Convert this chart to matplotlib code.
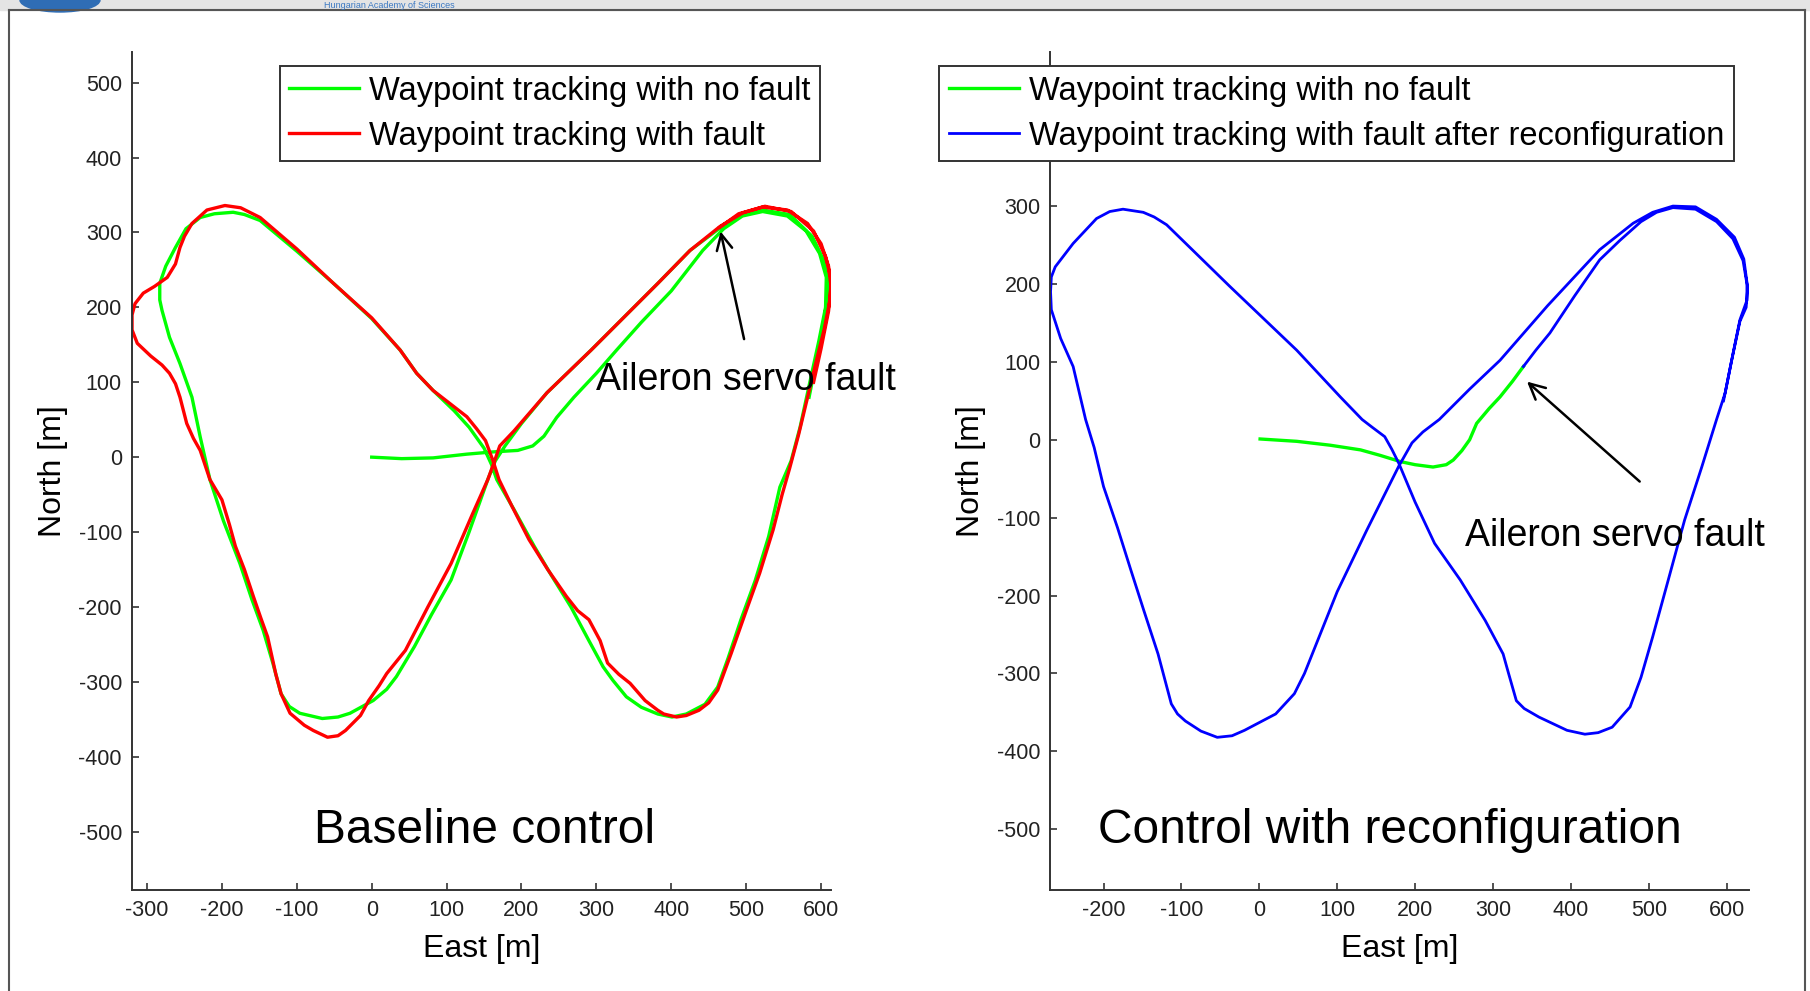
import matplotlib
matplotlib.use("Agg")
import matplotlib.pyplot as plt
from matplotlib.patches import Rectangle, Ellipse
from matplotlib.lines import Line2D

plt.rcParams["font.family"] = ["Liberation Sans", "DejaVu Sans"]
plt.rcParams["axes.unicode_minus"] = False

# --- data (East, North) ---
# left panel: baseline control
nofault_e = [0, 40, 82, 127, 162, 195, 215, 230, 247, 270, 300, 327, 360, 400, 442, 470,
             495, 522, 555, 580, 598, 607, 606, 597, 585, 572, 560, 545, 530, 512, 493,
             476, 462, 445, 420, 401, 382, 360, 340, 322, 309, 290, 266, 240, 217, 190,
             167, 160, 150, 130, 110, 82, 60, 38, 0, -51, -100, -149, -170, -185, -210,
             -229, -248, -262, -275, -283, -283, -280, -270, -256, -240, -229, -216,
             -198, -176, -160, -145, -132, -121, -110, -96, -66, -45, -29, 2, 20, 33,
             57, 80, 106, 130, 155, 165, 178, 200, 234, 293, 340, 382, 425, 465, 492,
             522, 558, 588, 604, 610, 604, 594, 584]
nofault_n = [0, -2, -1, 4, 7, 9, 15, 28, 53, 80, 112, 143, 180, 222, 276, 305,
             322, 328, 322, 302, 272, 240, 200, 155, 100, 40, -5, -40, -106, -165, -217,
             -268, -307, -330, -343, -347, -343, -334, -320, -298, -280, -245, -200, -158,
             -119, -70, -30, -10, 12, 40, 62, 89, 112, 143, 185, 232, 275, 316, 324, 327,
             325, 320, 305, 280, 255, 232, 210, 196, 160, 125, 80, 27, -30, -85, -142,
             -190, -231, -275, -316, -333, -342, -349, -347, -342, -325, -310, -293,
             -253, -210, -164, -100, -30, -5, 15, 45, 86, 143, 190, 232, 276, 306, 323,
             330, 324, 295, 262, 230, 180, 130, 80]

fault_e = [465, 490, 522, 555, 582, 600, 610, 613, 612, 604, 594, 582, 570, 558, 548,
           536, 518, 499, 480, 462, 450, 437, 420, 407, 390, 382, 365, 345, 330, 315,
           305, 290, 275, 260, 235, 210, 187, 170, 162, 152, 140, 127, 100, 82, 60, 38,
           0, -51, -100, -149, -175, -196, -220, -240, -250, -256, -262, -273, -290,
           -305, -316, -320, -320, -313, -295, -280, -270, -262, -256, -247, -238,
           -229, -216, -200, -190, -182, -170, -158, -148, -139, -128, -121, -109,
           -90, -78, -59, -45, -35, -15, -4, 10, 20, 45, 75, 106, 135, 155, 163, 171,
           190, 234, 293, 340, 382, 425, 465, 495, 525, 560, 590, 606, 614, 610, 600,
           590]
fault_n = [307, 325, 334, 330, 312, 285, 255, 230, 210, 170, 130, 80, 30, -15, -50,
           -97, -155, -208, -262, -311, -328, -338, -345, -347, -343, -338, -325, -302,
           -290, -275, -245, -217, -205, -186, -150, -110, -65, -30, -5, 22, 38, 54, 75,
           89, 112, 143, 186, 232, 278, 320, 333, 336, 330, 312, 295, 280, 258, 240,
           228, 219, 205, 190, 170, 152, 135, 123, 112, 98, 80, 45, 25, 9, -30, -57,
           -90, -119, -150, -186, -215, -240, -290, -316, -342, -358, -365, -374, -372,
           -365, -345, -325, -305, -289, -258, -200, -142, -75, -30, -8, 15, 35, 86,
           143, 190, 232, 276, 308, 326, 335, 328, 302, 268, 235, 195, 145, 100]

# right panel: control with reconfiguration
start_e = [1, 48, 91, 130, 155, 181, 200, 223, 240, 249, 260, 270, 279, 295, 309, 325, 339]
start_n = [1, -2, -7, -13, -20, -28, -32, -35, -32, -26, -14, 0, 21, 40, 55, 75, 94]

reconf_e = [339, 355, 373, 405, 437, 463, 490, 510, 531, 560, 587, 608, 621, 626, 626,
            617, 608, 598, 587, 568, 546, 525, 505, 490, 476, 453, 435, 418, 395, 359,
            340, 330, 320, 313, 290, 258, 225, 200, 179, 170, 161, 145, 132, 104, 48,
            -38, -80, -119, -135, -149, -175, -192, -209, -239, -262, -267, -268, -267,
            -255, -239, -231, -223, -212, -200, -182, -165, -148, -130, -113, -105, -95,
            -75, -54, -35, -19, 21, 45, 58, 68, 100, 138, 160, 179, 196, 210, 231, 270,
            309, 370, 437, 480, 505, 531, 560, 587, 610, 622, 627, 625, 617, 606, 596]
reconf_n = [94, 115, 137, 185, 231, 256, 280, 292, 298, 296, 280, 258, 230, 200, 179,
            154, 110, 60, 26, -35, -103, -180, -253, -305, -343, -369, -376, -378, -373,
            -356, -345, -335, -300, -275, -232, -180, -133, -80, -30, -12, 4, 16, 26, 55,
            115, 197, 238, 276, 286, 292, 296, 293, 284, 252, 222, 209, 190, 167, 130, 94,
            60, 26, -10, -60, -113, -167, -220, -275, -339, -352, -361, -374, -382, -380,
            -373, -352, -326, -300, -275, -195, -116, -72, -34, -4, 10, 26, 65, 102, 172,
            244, 278, 292, 300, 299, 283, 260, 232, 195, 170, 152, 100, 50]

left_xticks = [-300, -200, -100, 0, 100, 200, 300, 400, 500, 600]
left_yticks = [-500, -400, -300, -200, -100, 0, 100, 200, 300, 400, 500]
right_xticks = [-200, -100, 0, 100, 200, 300, 400, 500, 600]
right_yticks = [-500, -400, -300, -200, -100, 0, 100, 200, 300]  # 400 sits under the legend

W, H = 1810, 991
fig = plt.figure(figsize=(W / 100, H / 100), dpi=100)

# screenshot frame / top strip
fig.patches.append(Rectangle((0, 1 - 10 / H), 1, 10 / H, transform=fig.transFigure,
                             color="#e4e4e4", zorder=0))
fig.patches.append(Ellipse((60 / W, 1.0), 80 / W, 24 / H, transform=fig.transFigure,
                           color="#2f6db5", zorder=0))
fig.text(324 / W, 1 - 5 / H, "Hungarian Academy of Sciences", color="#3a78c2", fontsize=6.5,
         va="center", ha="left")
for xs, ys in [([9 / W, 1805 / W], [1 - 10 / H, 1 - 10 / H]),
               ([9 / W, 9 / W], [0, 1 - 10 / H]),
               ([1805 / W, 1805 / W], [0, 1 - 10 / H])]:
    fig.lines.append(Line2D(xs, ys, transform=fig.transFigure, color="#555555", lw=1.5))

ax1 = fig.add_axes([131.6 / W, 1 - 890 / H, 699.5 / W, 838 / H])
ax2 = fig.add_axes([1050.4 / W, 1 - 890 / H, 698.4 / W, 838 / H])

l1, = ax1.plot(nofault_e, nofault_n, color="#00ff00", lw=2.4, solid_joinstyle="round")
l2, = ax1.plot(fault_e, fault_n, color="#ff0000", lw=2.4, solid_joinstyle="round")
ax1.set_xlim(-320.6, 613.4)
ax1.set_ylim(-578, 541)
ax1.set_xticks(left_xticks)
ax1.set_yticks(left_yticks)

l3, = ax2.plot(start_e, start_n, color="#00ff00", lw=2.4, solid_joinstyle="round")
l4, = ax2.plot(reconf_e, reconf_n, color="#0000ff", lw=2.0, solid_joinstyle="round")
ax2.set_xlim(-268.2, 628.4)
ax2.set_ylim(-578, 497.8)
ax2.set_xticks(right_xticks)
ax2.set_yticks(right_yticks)

for ax in (ax1, ax2):
    for s in ("top", "right"):
        ax.spines[s].set_visible(False)
    for s in ("left", "bottom"):
        ax.spines[s].set_color("#333333")
        ax.spines[s].set_linewidth(1.4)
    ax.tick_params(direction="in", length=5, width=1.2, colors="#333333",
                   labelcolor="#222222", labelsize=15.5, pad=7)
    ax.set_xlabel("East [m]", fontsize=23, va="center")
    ax.set_ylabel("North [m]", fontsize=23, va="center")
    ax.xaxis.set_label_coords(0.5, -0.07)
    ax.yaxis.set_label_coords(-0.113, 0.5)

leg_kw = dict(fontsize=23.5, loc="upper left", bbox_transform=fig.transFigure,
              borderaxespad=0, fancybox=False, framealpha=1, edgecolor="#333333",
              handlelength=2.15, handletextpad=0.3, borderpad=0.3, labelspacing=0.42)
lg1 = ax1.legend([l1, l2], ["Waypoint tracking with no fault", "Waypoint tracking with fault"],
                 bbox_to_anchor=(279.5 / W, 1 - 66 / H), **leg_kw)
lg2 = ax2.legend([l3, l4], ["Waypoint tracking with no fault",
                            "Waypoint tracking with fault after reconfiguration"],
                 bbox_to_anchor=(939 / W, 1 - 66 / H), **leg_kw)
for lg in (lg1, lg2):
    lg.get_frame().set_linewidth(1.4)

arrow = dict(arrowstyle="->", lw=1.8, color="black", mutation_scale=28)
ax1.annotate("", xy=(465, 305), xytext=(498, 154), arrowprops=arrow)
ax1.text(300, 89.6, "Aileron servo fault", fontsize=27, ha="left", va="baseline")
ax2.annotate("", xy=(341, 77), xytext=(491, -56), arrowprops=arrow)
ax2.text(264, -136, "Aileron servo fault", fontsize=27, ha="left", va="baseline")

ax1.text(-77, -515, "Baseline control", fontsize=34.5, ha="left", va="baseline")
ax2.text(-207, -518, "Control with reconfiguration", fontsize=34.5, ha="left", va="baseline")

fig.savefig("out.png", dpi=100)
